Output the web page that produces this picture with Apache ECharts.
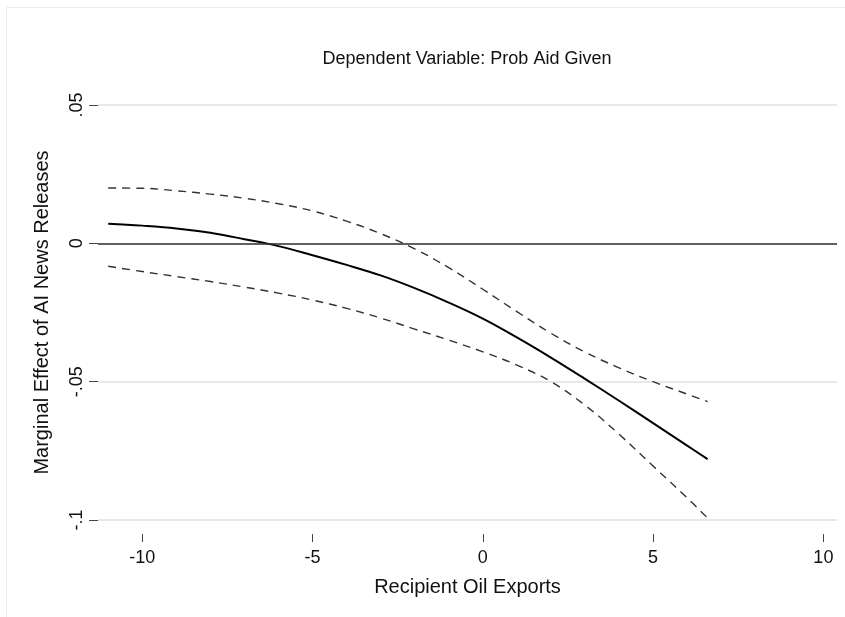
<!DOCTYPE html>
<html><head><meta charset="utf-8">
<script src="https://cdn.jsdelivr.net/npm/echarts@6/dist/echarts.min.js"></script>
<style>html,body{margin:0;padding:0;background:#fff}#c{width:845px;height:617px}</style>
</head><body><div id="c"></div>
<script>
const xs =      [-11, -10, -9, -8, -7, -6, -5, -4, -3, -2, -1, 0, 1, 2, 3, 4, 5, 6, 6.6];
const effect =  [0.0071, 0.0064, 0.0054, 0.0038, 0.0015, -0.0010, -0.0043, -0.0078, -0.0116, -0.0162, -0.0214, -0.0272, -0.0340, -0.0413, -0.0490, -0.0569, -0.0650, -0.0731, -0.0780];
const upper =   [0.0200, 0.0199, 0.0190, 0.0178, 0.0163, 0.0143, 0.0117, 0.0080, 0.0035, -0.0020, -0.0088, -0.0166, -0.0247, -0.0325, -0.0393, -0.0450, -0.0500, -0.0545, -0.0572];
const lower =   [-0.0083, -0.0102, -0.0120, -0.0138, -0.0158, -0.0180, -0.0205, -0.0235, -0.0270, -0.0310, -0.0350, -0.0392, -0.0440, -0.0500, -0.0585, -0.0690, -0.0805, -0.0920, -0.0993];
const xTicks = [-10, -5, 0, 5, 10];
const yTickLabels = {"-0.1": "-.1", "-0.05": "-.05", "0": "0", "0.05": ".05"};
const subtitle = "Dependent Variable: Prob Aid Given";
const xTitle = "Recipient Oil Exports";
const yTitle = "Marginal Effect of AI News Releases";

const pair = arr => xs.map((x, i) => [x, arr[i]]);
const font = "Helvetica, 'Liberation Sans', Arial, sans-serif";
const chart = echarts.init(document.getElementById('c'), null, {renderer: 'canvas'});
chart.setOption({
  animation: false,
  backgroundColor: '#fff',
  graphic: [
    {type: 'rect', shape: {x: 6.5, y: 7.5, width: 900, height: 700}, style: {fill: 'none', stroke: '#ececec', lineWidth: 1}, silent: true},
    {type: 'text', x: 467, y: 59, style: {text: subtitle, font: '18px ' + font, fill: '#111', align: 'center', verticalAlign: 'middle'}}
  ],
  grid: {left: 98, right: 8, top: 105, bottom: 97, containLabel: false},
  xAxis: {
    type: 'value', min: -11.3, max: 10.4,
    offset: 14,
    axisLine: {show: false, onZero: false},
    axisTick: {show: true, length: 8, lineStyle: {color: '#444', width: 1}, customValues: xTicks},
    axisLabel: {customValues: xTicks, fontSize: 18, color: '#111', fontFamily: font, margin: 15},
    splitLine: {show: false},
    name: xTitle, nameLocation: 'middle', nameGap: 43,
    nameTextStyle: {fontSize: 20, color: '#111', fontFamily: font}
  },
  yAxis: {
    type: 'value', min: -0.1, max: 0.05, interval: 0.05,
    axisLine: {show: false, onZero: false},
    axisTick: {show: true, length: 9, lineStyle: {color: '#444', width: 1}},
    axisLabel: {rotate: 90, fontSize: 18, color: '#111', fontFamily: font, margin: 12,
      formatter: v => yTickLabels[String(Math.round(v * 100) / 100)] ?? String(v)},
    splitLine: {show: true, lineStyle: {color: '#e8e8e8', width: 2}},
    name: yTitle, nameLocation: 'middle', nameGap: 46,
    nameTextStyle: {fontSize: 20, color: '#111', fontFamily: font}
  },
  series: [
    {type: 'line', data: pair(upper), smooth: 0.4, symbol: 'none',
      lineStyle: {color: '#333', width: 1.4, type: [8, 6]}},
    {type: 'line', data: pair(lower), smooth: 0.4, symbol: 'none',
      lineStyle: {color: '#333', width: 1.4, type: [8, 6]}},
    {type: 'line', data: pair(effect), smooth: 0.4, symbol: 'none',
      lineStyle: {color: '#000', width: 2}, z: 3,
      markLine: {silent: true, symbol: 'none', label: {show: false},
        lineStyle: {color: '#333', width: 1.5, type: 'solid'},
        data: [{yAxis: 0}]}}
  ]
});
</script></body></html>
